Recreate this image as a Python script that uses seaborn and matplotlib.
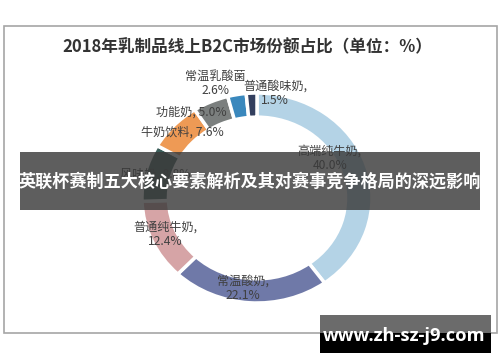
import matplotlib
matplotlib.use("Agg")
import matplotlib.pyplot as plt
import seaborn as sns
from matplotlib.patches import Rectangle
import numpy as np

# -------------------------------
# Data
# -------------------------------
title = "2018年乳制品线上B2C市场份额占比（单位：%）"
categories = ["高端纯牛奶", "常温酸奶", "普通纯牛奶", "风味奶",
              "牛奶饮料", "功能奶", "常温乳酸菌", "普通酸味奶"]
shares = [40.0, 22.1, 12.4, 8.8, 7.6, 5.0, 2.6, 1.5]
separators = [",\n", ",\n", ",\n", ", ", ", ", ", ", "\n", ",\n"]
banner_text = "英联杯赛制五大核心要素解析及其对赛事竞争格局的深远影响"
site_text = "www.zh-sz-j9.com"

# -------------------------------
# Style
# -------------------------------
sns.set_theme(style="white")
plt.rcParams["font.family"] = ["Noto Sans CJK SC", "DejaVu Sans"]

palette = ["#b4d3e6", "#6f79a8", "#d6a4a6", "#3b5e5a",
           "#ee9a55", "#7b7f7e", "#3a88bd", "#333f5e"]
# label nudges in pixels (right, up) from the mid-ring point
nudges = [(-24, 11), (-7, 2), (1, 2), (-3, 1),
          (-1, 2), (-25, 1), (-24, 23), (23, 12)]

W, H = 500, 362
fig = plt.figure(figsize=(W / 100, H / 100), dpi=100, facecolor="white")

# -------------------------------
# Donut
# -------------------------------
ax = fig.add_axes([142 / W, 59 / H, 230 / W, 210 / H])
wedges, _ = ax.pie(shares, colors=palette, startangle=90, counterclock=False,
                   radius=1, wedgeprops=dict(width=0.23, edgecolor="white", linewidth=2.5))
ax.set_aspect("auto")
ax.set_xlim(-1, 1)
ax.set_ylim(-1, 1)
ax.axis("off")

for w, cat, val, sep, (dx, dy) in zip(wedges, categories, shares, separators, nudges):
    mid = np.deg2rad((w.theta1 + w.theta2) / 2)
    x, y = 0.885 * np.cos(mid), 0.885 * np.sin(mid)
    ax.annotate(f"{cat}{sep}{val:.1f}%", xy=(x, y), xytext=(dx, dy),
                textcoords="offset pixels", ha="center", va="center",
                fontsize=8.7, color="#404040", linespacing=1.15)

# -------------------------------
# Frame, title and overlays
# -------------------------------
ov = fig.add_axes([0, 0, 1, 1], zorder=5)
ov.set_xlim(0, W)
ov.set_ylim(H, 0)
ov.axis("off")
ov.patch.set_alpha(0)

ov.add_patch(Rectangle((4, 26), 493, 307, fill=False, ec="#a6a6a6", lw=1.2))
ov.text(247, 47, title, ha="center", va="center", fontsize=12,
        fontweight="bold", color="#333333")

ov.add_patch(Rectangle((20, 152), 460, 58, fc="#3a3a3a", alpha=0.82, lw=0))
ov.text(250, 182, banner_text, ha="center", va="center", fontsize=12.3,
        fontweight="bold", color="white")

ov.add_patch(Rectangle((320, 315), 171, 18, fc="#6b6b6b", lw=0))
ov.add_patch(Rectangle((320, 333), 171, 20, fc="black", lw=0))
ov.text(404, 336, site_text, ha="center", va="center", fontsize=13.2,
        fontweight="bold", color="white", family="Open Sans")

plt.savefig("out.png", dpi=100, facecolor="white")
plt.close()
